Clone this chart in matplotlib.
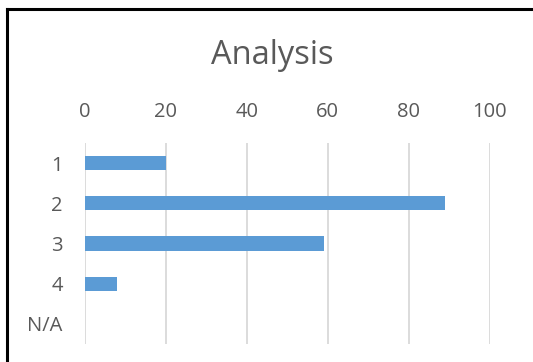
import matplotlib
matplotlib.use('Agg')
import matplotlib.pyplot as plt
from matplotlib.lines import Line2D

categories = ['1', '2', '3', '4', 'N/A']
values = [20, 89, 59, 8, 0]
x_ticks = [0, 20, 40, 60, 80, 100]

plt.rcParams['font.family'] = ['Open Sans', 'DejaVu Sans']
text_color = '#595959'

fig = plt.figure(figsize=(5.33, 3.62), dpi=100)
ax = fig.add_axes([85 / 533, 1 - 344 / 362, 404.5 / 533, 201 / 362])

ypos = list(range(len(categories)))
ax.barh(ypos, values, height=0.35, color='#5B9BD5', zorder=3)

ax.set_xlim(0, 100)
ax.set_ylim(len(categories) - 0.5, -0.5)
ax.set_xticks(x_ticks)
ax.set_yticks(ypos)
ax.set_yticklabels(categories)
ax.xaxis.tick_top()
ax.tick_params(axis='x', length=0, pad=15, labelsize=14.5, labelcolor=text_color)
ax.tick_params(axis='y', length=0, pad=16, labelsize=14.5, labelcolor=text_color)
ax.grid(axis='x', color='#d9d9d9', linewidth=1.3, zorder=0)
for s in ax.spines.values():
    s.set_visible(False)

fig.text(272 / 533, 1 - 55 / 362, 'Analysis', ha='center', va='center',
         fontsize=23.5, color=text_color)

# frame lines along the top and left edges
fig.add_artist(Line2D([7 / 533, 1], [1 - 9 / 362, 1 - 9 / 362], color='black', linewidth=2.2,
                      transform=fig.transFigure))
fig.add_artist(Line2D([7 / 533, 7 / 533], [0, 1 - 9 / 362], color='black', linewidth=2.2,
                      transform=fig.transFigure))

fig.savefig('out.png', dpi=100)
